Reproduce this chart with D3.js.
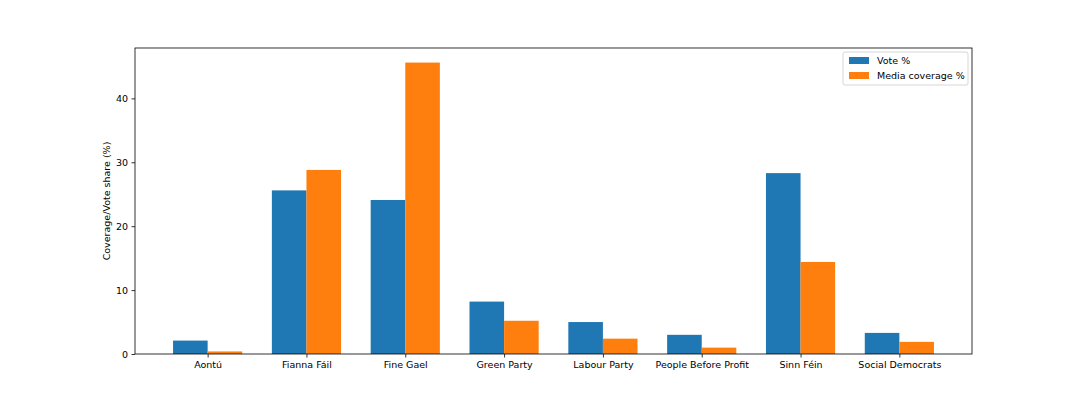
<!DOCTYPE html>
<html>
<head>
<meta charset="utf-8">
<script src="https://cdn.jsdelivr.net/npm/d3@7"></script>
<style>
  body { margin: 0; background: #fff; }
  text { font-family: "DejaVu Sans", sans-serif; fill: #000; }
</style>
</head>
<body>
<svg id="chart" width="1080" height="405"></svg>
<script>
// party names along the x axis
var parties = ["Aontú", "Fianna Fáil", "Fine Gael", "Green Party", "Labour Party", "People Before Profit", "Sinn Féin", "Social Democrats"];
var votePct = [2.1, 25.6, 24.1, 8.2, 5.0, 3.0, 28.3, 3.3];
var mediaPct = [0.4, 28.8, 45.6, 5.2, 2.4, 1.0, 14.4, 1.9];
var seriesNames = ["Vote %", "Media coverage %"];
var yTicks = [0, 10, 20, 30, 40];

var colors = ["#1f77b4", "#ff7f0e"];
var fs = 9.5;
// plot box (note: "top" is reserved on window, so use other names)
var plotL = 135, plotR = 972, plotT = 48, plotB = 354;
var barW = 0.35;

var svg = d3.select("#chart");

// numeric x scale like matplotlib: index positions with 5% margins
var x = d3.scaleLinear().domain([-0.735, 7.735]).range([plotL, plotR]);
var yMax = d3.max(votePct.concat(mediaPct)) * 1.05;
var y = d3.scaleLinear().domain([0, yMax]).range([plotB, plotT]);

var series = [votePct, mediaPct];
series.forEach(function(vals, s) {
  svg.append("g").selectAll("rect")
    .data(vals)
    .enter().append("rect")
      .attr("x", function(d, i) { return x(i - barW + s * barW); })
      .attr("width", function() { return x(barW) - x(0); })
      .attr("y", function(d) { return y(d); })
      .attr("height", function(d) { return y(0) - y(d); })
      .attr("fill", colors[s]);
});

// axes
var xAxis = d3.axisBottom(x)
  .tickValues(d3.range(parties.length))
  .tickFormat(function(d) { return parties[d]; })
  .tickSize(3.5).tickPadding(3.5);
var gx = svg.append("g").attr("transform", "translate(0," + plotB + ")").call(xAxis);

var yAxis = d3.axisLeft(y).tickValues(yTicks).tickSize(3.5).tickPadding(3.5);
var gy = svg.append("g").attr("transform", "translate(" + plotL + ",0)").call(yAxis);

[gx, gy].forEach(function(g) {
  g.select(".domain").remove();
  g.selectAll("line").attr("stroke", "#000").attr("stroke-width", 0.8);
  g.selectAll("text").attr("font-size", fs).attr("font-family", "DejaVu Sans, sans-serif").attr("fill", "#000");
});

// frame
svg.append("rect")
  .attr("x", plotL).attr("y", plotT)
  .attr("width", plotR - plotL).attr("height", plotB - plotT)
  .attr("fill", "none").attr("stroke", "#000").attr("stroke-width", 0.8);

// y label
svg.append("text")
  .attr("transform", "translate(110," + ((plotT + plotB) / 2) + ") rotate(-90)")
  .attr("text-anchor", "middle")
  .attr("font-size", fs)
  .text("Coverage/Vote share (%)");

// legend
var lg = svg.append("g").attr("transform", "translate(843,52)");
lg.append("rect").attr("width", 125).attr("height", 33).attr("rx", 2)
  .attr("fill", "#fff").attr("fill-opacity", 0.8).attr("stroke", "#ccc").attr("stroke-width", 0.8);
seriesNames.forEach(function(name, i) {
  lg.append("rect").attr("x", 6).attr("y", 5 + i * 15).attr("width", 20).attr("height", 7).attr("fill", colors[i]);
  lg.append("text").attr("x", 34).attr("y", 12 + i * 15).attr("font-size", fs).text(name);
});
</script>
</body>
</html>
